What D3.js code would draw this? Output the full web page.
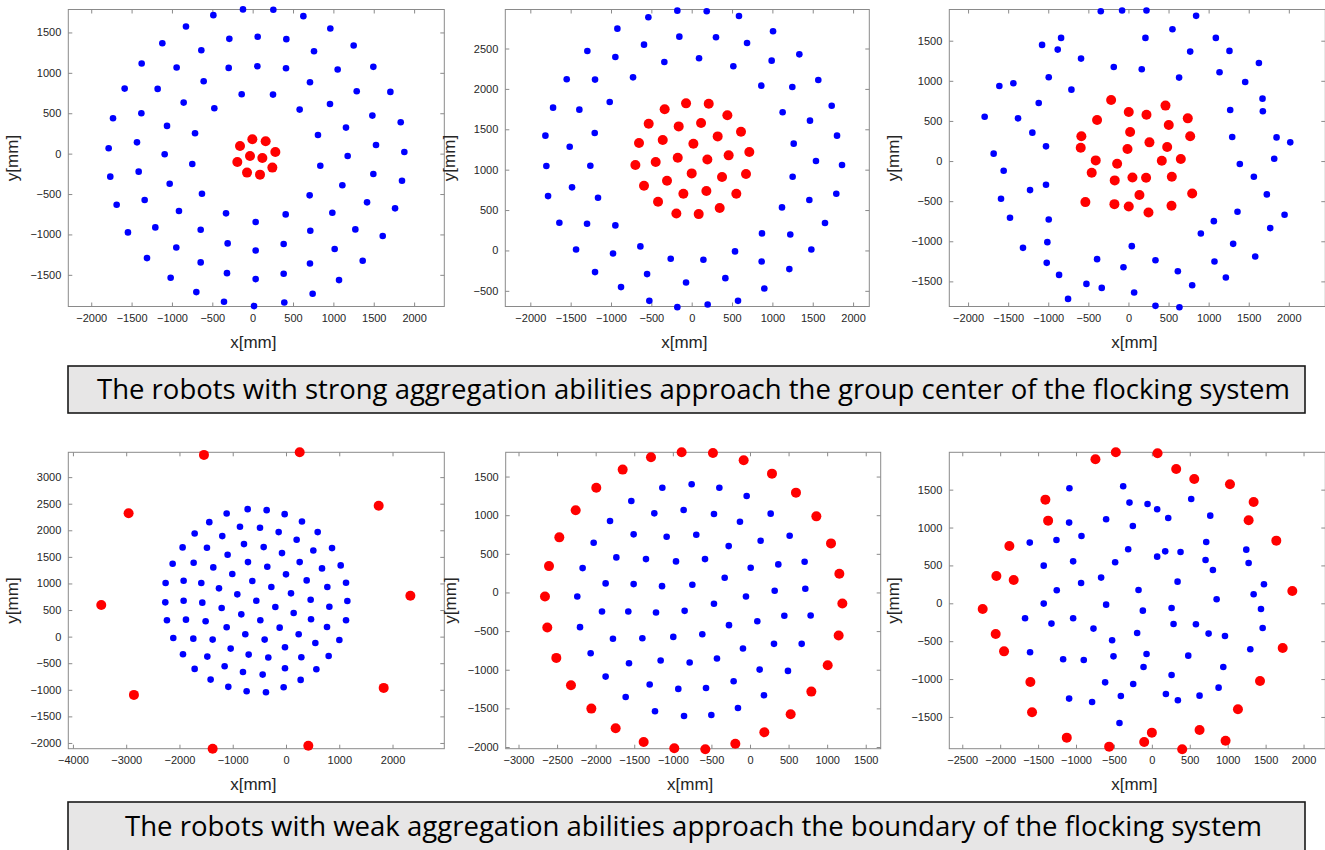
<!DOCTYPE html>
<html>
<head>
<meta charset="utf-8">
<script src="https://cdn.jsdelivr.net/npm/d3@7"></script>
<style>
  html, body { margin: 0; padding: 0; background: #fff; }
  svg { display: block; }
</style>
</head>
<body>
<svg id="chart" width="1325" height="850"></svg>
<script>
// ---- Robot positions [x, y] in mm ----

// Panel 1: strong aggregation, 10 robots near the centre
const p1Blue = [[-120,1785],[256,1780],[-487,1714],[628,1702],[-826,1574],[962,1549],[62,1446],[-289,1421],[417,1417],[-1119,1367],
  [1251,1338],[-636,1280],[760,1268],[-1375,1115],[1495,1074],[58,1082],[-297,1061],[413,1057],[-942,1066],[1053,1041],
  [-607,896],[710,884],[-1586,805],[-1177,801],[1289,772],[1706,764],[-136,735],[252,731],[-855,632],[958,615],
  [-475,562],[582,545],[-1730,438],[-1379,500],[1483,471],[1834,388],[-1061,343],[1156,322],[-714,252],[809,231],
  [-1433,140],[1528,107],[-1784,66],[1879,21],[-1090,-8],[1177,-29],[-748,-128],[838,-149],[-1412,-223],[-1764,-285],
  [1495,-252],[1850,-335],[-1028,-372],[1111,-392],[-628,-496],[706,-516],[-1685,-632],[-1338,-574],[1417,-603],[1764,-677],
  [-913,-710],[-330,-739],[409,-752],[37,-847],[987,-731],[-1545,-975],[-1206,-913],[-644,-942],[714,-954],[1272,-938],
  [1611,-1020],[-946,-1161],[-310,-1111],[384,-1119],[37,-1198],[1016,-1181],[-1309,-1293],[1363,-1326],[-644,-1346],[710,-1359],
  [-1016,-1536],[-318,-1479],[384,-1487],[37,-1553],[1070,-1565],[-698,-1714],[743,-1735],[-355,-1834],[392,-1842],[17,-1887]];
const p1Red = [[-4,178],[161,153],[-157,95],[281,21],[-33,-29],[120,-54],[-190,-103],[244,-173],[-70,-235],[91,-260]];

// Panel 2: strong aggregation, 30 robots near the centre
const p2Blue = [[-178,2969],[186,2961],[-537,2887],[586,2903],[-921,2746],[1008,2713],[-153,2647],[301,2639],[-591,2548],[686,2569],
  [-1293,2470],[-946,2395],[91,2379],[-339,2333],[991,2350],[1334,2428],[516,2280],[-1549,2119],[-1198,2115],[-727,2143],
  [1569,2110],[863,2040],[1247,2024],[-1718,1768],[-1392,1743],[-1016,1838],[1735,1792],[1127,1710],[1466,1607],[-1813,1421],
  [-1202,1454],[1801,1421],[-1512,1284],[1264,1322],[-1801,1045],[-1256,1049],[1540,1107],[1863,1057],[1251,913],[-1483,781],
  [-1780,673],[-1161,653],[1792,702],[1458,624],[1119,533],[-1640,343],[-1297,330],[-946,310],[1652,339],[871,211],
  [1222,198],[-1433,12],[-975,-37],[-636,50],[1483,12],[537,-12],[-260,-103],[145,-116],[867,-136],[-1198,-268],
  [-553,-293],[-70,-396],[417,-343],[1210,-231],[-876,-454],[900,-471],[-525,-624],[-178,-702],[198,-669],[574,-624]];
const p2Red = [[-70,1821],[211,1817],[-335,1747],[442,1673],[-533,1569],[-161,1536],[116,1578],[611,1470],[322,1412],[-653,1330],
  [-359,1367],[21,1322],[714,1218],[-173,1148],[194,1127],[458,1177],[-698,1057],[-446,1094],[0,954],[376,909],
  [673,946],[-591,801],[-306,863],[-103,702],[182,735],[553,702],[-417,603],[347,525],[-190,458],[87,450]];

// Panel 3: strong aggregation, 30 robots spread around the centre
const p3Blue = [[-345,1868],[-79,1876],[225,1876],[844,1810],[549,1643],[-840,1535],[-1077,1448],[212,1535],[-882,1389],[1090,1535],
  [1260,1373],[770,1364],[-591,1277],[-183,1173],[166,1144],[1627,1223],[1136,1107],[-994,1044],[632,1040],[-1610,936],
  [-1435,969],[1456,986],[-711,890],[-1119,724],[1672,778],[1269,636],[1676,620],[-1793,553],[-1377,532],[-1198,354],
  [1294,300],[1847,295],[2018,233],[-1028,183],[-1681,92],[1818,29],[-1556,-121],[1389,-37],[1564,-196],[-1589,-470],
  [-1028,-295],[-1227,-362],[1726,-416],[-1477,-707],[-994,-728],[1360,-632],[1947,-670],[1065,-749],[1768,-836],[903,-903],
  [-1011,-1011],[1306,-1032],[-1315,-1082],[42,-1061],[-391,-1223],[337,-1236],[1581,-1190],[-1019,-1269],[1073,-1252],[-62,-1323],
  [616,-1373],[-865,-1419],[1215,-1452],[-524,-1531],[-333,-1581],[71,-1639],[795,-1548],[-753,-1718],[337,-1805],[636,-1822]];
const p3Red = [[-216,761],[4,612],[225,578],[462,691],[740,532],[-391,512],[503,449],[21,362],[-587,308],[770,308],
  [-595,166],[262,233],[-12,150],[483,175],[-408,8],[-141,-33],[416,4],[653,25],[-458,-146],[-171,-241],
  [50,-204],[220,-208],[541,-196],[137,-424],[795,-404],[-537,-512],[-175,-537],[4,-566],[250,-641],[537,-557]];

// Panel 4: weak aggregation, 10 robots far out on the boundary
const p4Blue = [[-720,2398],[-363,2379],[-1114,2316],[-25,2304],[-1440,2153],[-864,2066],[-488,2047],[300,2166],[-138,1966],[595,1966],
  [-1715,1941],[-1196,1891],[200,1822],[-789,1740],[-419,1684],[-1941,1678],[-1484,1671],[513,1621],[864,1665],[-1096,1540],
  [-75,1571],[-2128,1371],[-1734,1390],[-714,1402],[257,1402],[1027,1340],[-1365,1302],[-351,1315],[676,1283],[-1008,1177],
  [0,1171],[-632,1045],[388,1058],[-2260,1008],[-1922,1052],[-1590,1008],[1127,1014],[-1258,908],[-275,933],[776,933],
  [-914,795],[94,814],[-2266,645],[-1922,676],[-1571,639],[463,695],[1152,670],[-557,676],[-1208,538],[-200,557],
  [814,563],[144,444],[-839,419],[-2235,307],[-1878,319],[-1509,288],[-482,307],[1127,307],[470,326],[-1114,175],
  [-119,169],[770,182],[-2116,-25],[-1740,-38],[-1377,-56],[-764,44],[-401,-56],[238,44],[1002,-63],[551,-119],
  [-1039,-225],[-19,-200],[-1934,-332],[-1477,-376],[-701,-338],[-332,-394],[288,-388],[801,-363],[-1715,-607],[-1152,-557],
  [-808,-664],[-438,-714],[-19,-595],[570,-613],[-1415,-808],[275,-814],[-1083,-945],[-739,-1027],[-376,-1045],[-44,-952]];
const p4Red = [[-1540,3418],[257,3468],[-2955,2322],[1740,2460],[-3468,595],[2335,770],[-2855,-1096],[1834,-964],[-1377,-2110],[419,-2053]];

// Panel 5: weak aggregation, 30 robots on the boundary ring
const p5Blue = [[-1136,1356],[-756,1400],[-397,1356],[-43,1248],[-1538,1184],[-860,1067],[-1240,1024],[-467,1015],[-130,916],[268,1020],
  [-1814,924],[-1508,752],[-1080,721],[-696,747],[-2026,644],[-276,600],[138,670],[514,734],[-1732,454],[-1348,432],
  [-959,402],[-583,432],[-2169,315],[9,320],[367,363],[708,397],[-328,190],[-1871,117],[-1508,108],[-1140,82],
  [-747,99],[-2238,-52],[-467,-147],[-52,-52],[320,22],[717,48],[-1918,-246],[-1577,-246],[-1218,-259],[-847,-238],
  [-272,-423],[95,-372],[445,-302],[786,-298],[-2203,-449],[-1776,-600],[-1395,-592],[-994,-575],[-618,-540],[-91,-726],
  [311,-665],[670,-665],[-2065,-786],[-1568,-916],[-1158,-881],[-782,-907],[-428,-855],[125,-998],[492,-1015],[-1871,-1089],
  [-1300,-1192],[-929,-1248],[-570,-1236],[-212,-1149],[181,-1331],[-1611,-1352],[-1231,-1538],[-855,-1598],[-501,-1585],[-156,-1495]];
const p5Red = [[-886,1814],[-480,1806],[-1283,1750],[-82,1711],[-1650,1590],[285,1538],[-1992,1356],[596,1292],[-2259,1063],[860,985],
  [-2471,713],[1050,635],[-2605,341],[1158,242],[-2657,-52],[1197,-143],[-2627,-454],[1149,-557],[-2510,-847],[1007,-942],
  [-2320,-1201],[795,-1283],[-2056,-1503],[527,-1577],[-1741,-1758],[186,-1810],[-1378,-1935],[-190,-1957],[-981,-2017],[-579,-2030]];

// Panel 6: weak aggregation, 30 robots spread along the boundary
const p6Blue = [[-1087,1518],[-378,1544],[519,1377],[-295,1329],[-57,1311],[70,1241],[216,1126],[-603,1109],[770,1157],[-1091,1065],
  [-251,1021],[-1610,801],[-1258,836],[-928,889],[717,810],[-312,713],[1245,708],[176,686],[378,678],[70,616],
  [-1426,497],[-484,541],[-1038,554],[708,572],[1276,532],[805,440],[-669,339],[-933,268],[339,286],[-176,176],
  [-1254,172],[1478,251],[1342,119],[854,53],[-1426,-4],[-603,-18],[260,-62],[-119,-97],[-1672,-198],[-1038,-198],
  [1439,-75],[-1324,-268],[-770,-334],[286,-273],[581,-277],[-194,-392],[748,-400],[964,-431],[1461,-326],[-524,-488],
  [-1606,-647],[-1170,-739],[-898,-748],[-506,-700],[-70,-669],[1298,-607],[480,-691],[-110,-840],[942,-840],[-616,-1043],
  [-246,-1065],[260,-946],[880,-1113],[-1091,-1258],[-788,-1302],[-409,-1223],[185,-1197],[343,-1280],[629,-1219],[-427,-1580]];
const p6Red = [[-475,1993],[75,1980],[-744,1901],[321,1773],[559,1641],[1030,1571],[-1404,1368],[1342,1338],[-1368,1091],[1276,1096],
  [-1879,757],[1641,827],[-2050,361],[-1822,308],[1852,163],[-2231,-75],[-2059,-405],[-1949,-634],[1725,-590],[-1602,-1038],
  [1426,-1025],[-1580,-1439],[1135,-1399],[-1122,-1773],[629,-1672],[-563,-1892],[-101,-1830],[0,-1707],[972,-1813],[400,-1927]];

// ---- Axis limits [min, max] in mm ----
const p1XLim = [-2284, 2374], p1YLim = [-1892, 1784];
const p2XLim = [-2310, 2201], p2YLim = [-694, 2983];
const p3XLim = [-2234, 2455], p3YLim = [-1813, 1889];
const p4XLim = [-4087, 2972], p4YLim = [-2108, 3467];
const p5XLim = [-3166, 1694], p5YLim = [-2022, 1814];
const p6XLim = [-2671, 2287], p6YLim = [-1919, 1993];

// ---- Tick values ----
const p1XTicks = [-2000,-1500,-1000,-500,0,500,1000,1500,2000];
const p1YTicks = [-1500,-1000,-500,0,500,1000,1500];
const p2XTicks = [-2000,-1500,-1000,-500,0,500,1000,1500,2000];
const p2YTicks = [-500,0,500,1000,1500,2000,2500];
const p3XTicks = [-2000,-1500,-1000,-500,0,500,1000,1500,2000];
const p3YTicks = [-1500,-1000,-500,0,500,1000,1500];
const p4XTicks = [-4000,-3000,-2000,-1000,0,1000,2000];
const p4YTicks = [-2000,-1500,-1000,-500,0,500,1000,1500,2000,2500,3000];
const p5XTicks = [-3000,-2500,-2000,-1500,-1000,-500,0,500,1000,1500];
const p5YTicks = [-2000,-1500,-1000,-500,0,500,1000,1500];
const p6XTicks = [-2500,-2000,-1500,-1000,-500,0,500,1000,1500,2000];
const p6YTicks = [-1500,-1000,-500,0,500,1000,1500];

// ---- Captions ----
const captionTop = "The robots with strong aggregation abilities approach the group center of the flocking system";
const captionBottom = "The robots with weak aggregation abilities approach the boundary of the flocking system";

// ---- Layout ----
const panels = [
  { blue: p1Blue, red: p1Red, xl: p1XLim, yl: p1YLim, xt: p1XTicks, yt: p1YTicks, box: [68.3, 9.5, 444.3, 306.5] },
  { blue: p2Blue, red: p2Red, xl: p2XLim, yl: p2YLim, xt: p2XTicks, yt: p2YTicks, box: [505.3, 9.5, 869.3, 306.5] },
  { blue: p3Blue, red: p3Red, xl: p3XLim, yl: p3YLim, xt: p3XTicks, yt: p3YTicks, box: [949.3, 9.5, 1325.3, 306.5] },
  { blue: p4Blue, red: p4Red, xl: p4XLim, yl: p4YLim, xt: p4XTicks, yt: p4YTicks, box: [68.3, 452.3, 444.3, 748.7] },
  { blue: p5Blue, red: p5Red, xl: p5XLim, yl: p5YLim, xt: p5XTicks, yt: p5YTicks, box: [505.7, 452.3, 880.7, 748.7] },
  { blue: p6Blue, red: p6Red, xl: p6XLim, yl: p6YLim, xt: p6XTicks, yt: p6YTicks, box: [949.3, 452.3, 1325.3, 748.7] }
];

const svg = d3.select("#chart");
svg.append("rect").attr("width", 1325).attr("height", 850).attr("fill", "#fff");

const axisColor = "#8a8a8a";
const labelColor = "#262626";
const tickLen = 4;

panels.forEach(p => {
  const [x0, y0, x1, y1] = p.box;
  const x = d3.scaleLinear().domain(p.xl).range([x0, x1]);
  const y = d3.scaleLinear().domain(p.yl).range([y1, y0]);
  const g = svg.append("g");

  // frame
  g.append("rect").attr("x", x0).attr("y", y0).attr("width", x1 - x0).attr("height", y1 - y0)
    .attr("fill", "#fff").attr("stroke", axisColor).attr("stroke-width", 1);

  // bottom and left axes with inward ticks, plus mirrored ticks on top and right
  const fmt = d3.format("d");
  const styleAxis = sel => {
    sel.select(".domain").remove();
    sel.selectAll(".tick line").attr("stroke", axisColor);
    sel.selectAll(".tick text").attr("fill", labelColor)
      .style("font-family", "'Liberation Sans', Arial, sans-serif").style("font-size", "11px");
  };
  g.append("g").attr("transform", `translate(0,${y1})`)
    .call(d3.axisBottom(x).tickValues(p.xt).tickFormat(fmt).tickSizeInner(-tickLen).tickSizeOuter(0).tickPadding(8))
    .call(styleAxis);
  g.append("g").attr("transform", `translate(${x0},0)`)
    .call(d3.axisLeft(y).tickValues(p.yt).tickFormat(fmt).tickSizeInner(-tickLen).tickSizeOuter(0).tickPadding(7))
    .call(styleAxis);
  g.append("g").attr("transform", `translate(0,${y0})`)
    .call(d3.axisTop(x).tickValues(p.xt).tickFormat("").tickSizeInner(-tickLen).tickSizeOuter(0))
    .call(styleAxis);
  g.append("g").attr("transform", `translate(${x1},0)`)
    .call(d3.axisRight(y).tickValues(p.yt).tickFormat("").tickSizeInner(-tickLen).tickSizeOuter(0))
    .call(styleAxis);

  // robots
  g.append("g").selectAll("circle").data(p.blue).join("circle")
    .attr("cx", d => x(d[0])).attr("cy", d => y(d[1])).attr("r", 3.3).attr("fill", "#0000ff");
  g.append("g").selectAll("circle").data(p.red).join("circle")
    .attr("cx", d => x(d[0])).attr("cy", d => y(d[1])).attr("r", 5).attr("fill", "#ff0000");

  // axis titles
  g.append("text").attr("x", (x0 + x1) / 2 - 3).attr("y", y1 + 41)
    .attr("text-anchor", "middle").attr("fill", labelColor)
    .style("font-family", "'Liberation Sans', Arial, sans-serif").style("font-size", "17px")
    .text("x[mm]");
  const cy = (y0 + y1) / 2;
  const lx = x0 - 50;
  g.append("text").attr("transform", `translate(${lx},${cy}) rotate(-90)`)
    .attr("text-anchor", "middle").attr("fill", labelColor)
    .style("font-family", "'Liberation Sans', Arial, sans-serif").style("font-size", "17px")
    .text("y[mm]");
});

// caption boxes
function caption(text, top, bottom, left, right) {
  const g = svg.append("g");
  g.append("rect").attr("x", 68).attr("y", top).attr("width", 1237).attr("height", bottom - top)
    .attr("fill", "#e7e6e6").attr("stroke", "#1a1a1a").attr("stroke-width", 1.6);
  g.append("text").attr("x", (left + right) / 2).attr("y", (top + bottom) / 2 + 9.5)
    .attr("text-anchor", "middle").attr("fill", "#000")
    .style("font-family", "'Open Sans', 'Noto Sans', sans-serif").style("font-size", "27px")
    .attr("textLength", right - left).attr("lengthAdjust", "spacingAndGlyphs")
    .text(text);
}
caption(captionTop, 366, 413, 97, 1290);
caption(captionBottom, 802, 851, 125, 1262);
</script>
</body>
</html>
